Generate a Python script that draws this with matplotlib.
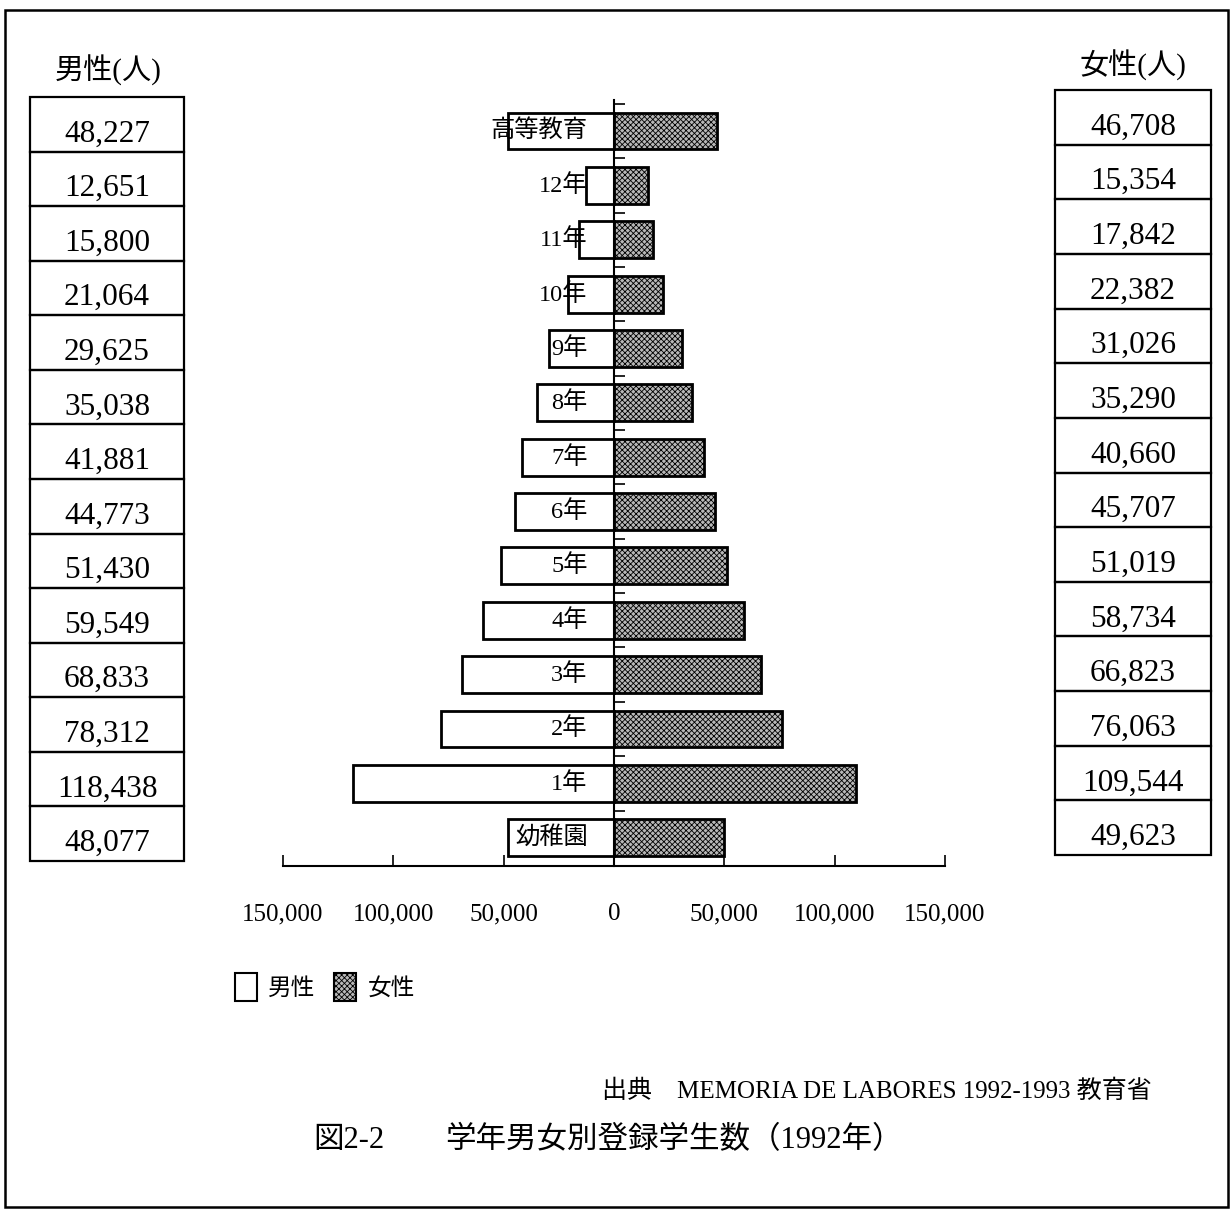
import numpy as np
import matplotlib.pyplot as plt
from matplotlib.patches import Rectangle, Patch

plt.rcParams['hatch.linewidth'] = 0.6
FONT = ['Liberation Serif', 'Noto Sans CJK JP']

# data (top row first)
categories = ['高等教育', '12年', '11年', '10年', '9年', '8年', '7年', '6年',
              '5年', '4年', '3年', '2年', '1年', '幼稚園']
male = [48227, 12651, 15800, 21064, 29625, 35038, 41881, 44773,
        51430, 59549, 68833, 78312, 118438, 48077]
female = [46708, 15354, 17842, 22382, 31026, 35290, 40660, 45707,
          51019, 58734, 66823, 76063, 109544, 49623]
xticks = [-150000, -100000, -50000, 0, 50000, 100000, 150000]
xtick_labels = ['150,000', '100,000', '50,000', '0', '50,000', '100,000', '150,000']

W, H = 1232, 1214
fig = plt.figure(figsize=(W / 100, H / 100), dpi=100)


def fx(px):
    return px / W


def fy(py):
    return 1 - py / H


# outer frame
fig.patches.append(Rectangle((fx(5), fy(1207)), fx(1228) - fx(5), fy(10) - fy(1207),
                             transform=fig.transFigure, fill=False, lw=1.8, ec='black'))

# main butterfly chart
ax = fig.add_axes([fx(283), fy(866), fx(945) - fx(283), fy(100) - fy(866)])
y = np.arange(len(categories))
ax.barh(y, [-v for v in male], height=0.68, color='white', edgecolor='black', lw=2)
ax.barh(y, female, height=0.68, color='#b8b8b8', edgecolor='black', lw=2, hatch='xxxxxx')
for i, c in enumerate(categories):
    ax.annotate(c, (0, i), xytext=(-19, 0), textcoords='offset points',
                ha='right', va='center', fontsize=17.5, family=FONT)

ax.set_xlim(-150000, 150000)
ax.set_ylim(13.52, -0.57)
ax.spines['top'].set_visible(False)
ax.spines['right'].set_visible(False)
ax.spines['left'].set_position(('data', 0))
ax.spines['left'].set_linewidth(1.5)
ax.spines['bottom'].set_linewidth(1.5)
ax.set_xticks(xticks)
ax.set_xticklabels(xtick_labels, family=FONT, fontsize=18)
ax.set_yticks(np.arange(-0.5, 13, 1))
ax.set_yticklabels([])
ax.tick_params(axis='x', direction='in', length=8, width=1.2, pad=27)
ax.tick_params(axis='y', direction='in', length=8, width=1.2)


def draw_table(rect, values, header, hx, hy):
    t = fig.add_axes(rect)
    t.set_xlim(0, 1)
    t.set_ylim(len(values), 0)
    t.axis('off')
    for i, v in enumerate(values):
        t.add_patch(Rectangle((0, i), 1, 1, fill=False, ec='black', lw=1.6, clip_on=False))
        t.text(0.5, i + 0.68, f'{v:,}', ha='center', va='center', fontsize=22.5, family=FONT)
    fig.text(fx(hx), fy(hy), header, ha='center', va='center', fontsize=21, family=FONT)


draw_table([fx(30), fy(861), fx(184) - fx(30), fy(97) - fy(861)], male, '男性(人)', 108, 70)
draw_table([fx(1055), fy(855), fx(1211) - fx(1055), fy(90) - fy(855)], female, '女性(人)', 1133, 65)

# legend
handles = [Patch(facecolor='white', edgecolor='black', lw=1.5, label='男性'),
           Patch(facecolor='#b8b8b8', edgecolor='black', lw=1.5, hatch='xxxxxx', label='女性')]
fig.legend(handles=handles, loc='center left', bbox_to_anchor=(fx(214), fy(987)),
           ncol=2, frameon=False, handlelength=0.9, handleheight=1.5,
           handletextpad=0.5, columnspacing=0.8, prop={'family': FONT, 'size': 17})

# source and title
fig.text(fx(1152), fy(1091), '出典　MEMORIA DE LABORES 1992-1993 教育省',
         ha='right', va='center', fontsize=18, family=FONT)
fig.text(fx(313), fy(1140), '図2-2', ha='left', va='center', fontsize=22, family=FONT)
fig.text(fx(445), fy(1140), '学年男女別登録学生数（1992年）', ha='left', va='center',
         fontsize=22, family=FONT)

fig.savefig('out.png', dpi=100)
